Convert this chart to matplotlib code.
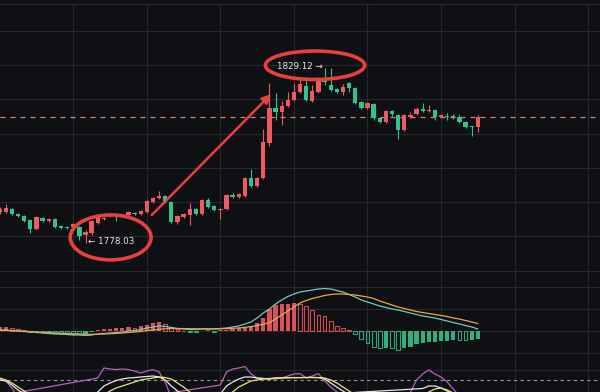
import matplotlib.pyplot as plt
from matplotlib.patches import Ellipse, FancyArrowPatch
import numpy as np

# ---- candle data, one entry per bar ----
opens = [1787.14, 1787.14, 1788.02, 1786.56, 1785.98, 1784.81, 1782.19, 1785.39, 1784.52, 1785.10,
         1783.06, 1782.77, 1782.77, 1782.77, 1780.44, 1781.02, 1783.94, 1785.10, 1786.27, 1786.56,
         1785.98, 1786.27, 1786.85, 1786.56, 1787.14, 1790.06, 1791.22, 1791.81, 1790.06, 1784.23,
         1785.68, 1786.27, 1788.02, 1786.56, 1790.64, 1788.89, 1787.73, 1788.02, 1792.10, 1791.52,
         1791.81, 1797.05, 1794.72, 1797.05, 1807.26, 1817.46, 1816.30, 1818.05, 1819.80, 1822.13,
         1823.88, 1819.50, 1822.13, 1825.63, 1824.17, 1823.00, 1822.13, 1824.75, 1823.29, 1819.21,
         1817.46, 1818.63, 1814.55, 1813.38, 1816.59, 1815.42, 1811.05, 1814.84, 1815.71, 1817.17,
         1816.59, 1816.88, 1814.84, 1815.13, 1815.13, 1814.84, 1813.38, 1812.22, 1811.92]
highs = [1788.60, 1789.48, 1788.31, 1786.85, 1786.27, 1785.10, 1785.98, 1785.68, 1785.39, 1785.39,
         1783.35, 1783.06, 1783.94, 1783.06, 1781.89, 1784.81, 1785.98, 1785.68, 1786.56, 1786.85,
         1786.56, 1787.43, 1787.14, 1787.73, 1790.64, 1791.52, 1793.26, 1792.10, 1790.35, 1786.27,
         1786.85, 1789.77, 1788.31, 1790.93, 1791.22, 1789.18, 1788.31, 1792.39, 1792.68, 1792.68,
         1797.35, 1799.68, 1797.35, 1811.34, 1824.75, 1821.84, 1819.50, 1822.13, 1824.75, 1826.50,
         1825.63, 1824.17, 1826.50, 1829.12, 1829.00, 1823.29, 1824.46, 1825.04, 1823.59, 1819.50,
         1819.21, 1818.92, 1814.84, 1816.88, 1816.88, 1815.71, 1815.71, 1816.30, 1817.75, 1818.92,
         1818.34, 1817.17, 1815.71, 1816.01, 1815.71, 1815.71, 1813.67, 1812.22, 1815.42]
lows = [1786.56, 1786.85, 1786.27, 1785.68, 1784.23, 1781.02, 1781.89, 1784.23, 1784.23, 1782.48,
        1782.19, 1782.19, 1782.48, 1778.98, 1778.03, 1780.44, 1783.64, 1784.81, 1785.68, 1784.52,
        1785.68, 1785.98, 1786.27, 1786.27, 1786.85, 1789.77, 1790.93, 1789.77, 1783.94, 1783.64,
        1785.39, 1783.35, 1786.27, 1786.27, 1788.31, 1787.43, 1785.10, 1787.73, 1791.22, 1791.22,
        1791.52, 1794.43, 1794.43, 1796.76, 1806.38, 1813.96, 1812.51, 1817.75, 1819.50, 1821.84,
        1819.50, 1819.21, 1821.84, 1824.17, 1822.42, 1821.84, 1821.25, 1822.13, 1818.63, 1817.17,
        1817.17, 1813.96, 1813.09, 1813.09, 1815.13, 1808.43, 1810.76, 1814.55, 1815.42, 1816.30,
        1816.30, 1813.96, 1814.55, 1813.96, 1814.26, 1813.09, 1811.63, 1809.30, 1810.47]
closes = [1788.02, 1788.31, 1786.56, 1785.98, 1784.52, 1782.19, 1785.68, 1784.52, 1785.10, 1782.77,
          1782.48, 1782.48, 1783.64, 1780.14, 1781.31, 1784.52, 1785.68, 1785.39, 1785.98, 1786.27,
          1786.27, 1787.14, 1786.56, 1787.43, 1790.35, 1791.22, 1791.81, 1790.06, 1784.23, 1785.98,
          1786.56, 1788.02, 1786.56, 1790.64, 1788.60, 1787.73, 1788.02, 1792.10, 1791.52, 1792.39,
          1797.05, 1794.72, 1797.05, 1807.55, 1817.46, 1816.30, 1818.05, 1819.80, 1822.13, 1824.46,
          1819.80, 1822.42, 1825.63, 1825.04, 1822.71, 1822.13, 1823.59, 1823.29, 1818.92, 1817.46,
          1818.92, 1814.55, 1813.38, 1816.59, 1815.71, 1811.05, 1815.42, 1815.42, 1817.17, 1816.59,
          1816.88, 1814.84, 1815.42, 1814.90, 1814.95, 1813.38, 1811.92, 1811.92, 1814.84]

# ---- MACD pane ----
macd_hist = [4, 4, 3, 2, 1, -0.5, -1, -1.2, -1.5, -2,
             -2.5, -2.7, -3, -3.2, -2.5, -1, 1.5, 2, 2.5, 3,
             3.2, 4, 3.5, 5, 6, 8, 9, 7, 4, 2,
             0.5, -1, -1.2, 0.5, 0.6, -0.5, 1, 1.5, 2, 3,
             4, 5.5, 8, 13, 22, 26, 27, 27.5, 28, 27,
             25, 21, 16, 15, 10, 5, 3, 0.8, -3, -8,
             -12, -16, -17, -16.8, -17, -19, -17, -16, -13, -12,
             -11, -10.5, -10, -9.8, -9, -9.2, -9.4, -9, -8]
macd_dif = [1, 1, 0.5, 0, -0.5, -1, -1.5, -2, -2.5, -3,
            -3, -3.5, -4, -4, -4.5, -4, -3, -2.5, -2, -1.5,
            -1, 0, 0.5, 1.5, 3, 4, 5, 4.5, 3.5, 2.5,
            2, 1.5, 1.5, 2, 2, 2, 2.5, 3, 4, 5,
            7, 9, 13, 18, 22, 27, 31, 34.5, 37, 39,
            40, 41, 42, 42.5, 42, 40.5, 39, 36.5, 34, 31,
            29, 27, 25, 23.5, 22, 21, 19.5, 18, 16.5, 15,
            14, 13, 11.5, 10, 8.5, 7, 5.5, 4, 2]
macd_dea = [0.5, 0.5, 0.3, 0, -0.3, -0.6, -1, -1.3, -1.6, -2,
            -2.2, -2.5, -2.8, -3, -3.2, -3.3, -3.2, -3, -2.7, -2.4,
            -2, -1.5, -1, -0.5, 0.3, 1, 1.7, 2.2, 2.5, 2.5,
            2.4, 2.3, 2.2, 2.2, 2.2, 2.2, 2.3, 2.4, 2.7, 3,
            3.6, 4.4, 5.5, 6.8, 8.5, 12, 16, 20, 24, 28,
            30.5, 32.5, 34, 35.5, 36.5, 37, 37, 36.5, 36, 35,
            34, 32.5, 30, 28, 26, 24, 22.5, 21, 19.5, 18.5,
            17.5, 16.5, 15.5, 14.5, 13, 12, 10.5, 9, 7.5]

# ---- KDJ pane ----
kdj_k = [50, 47.5, 37.5, 25, 15, 10, 8, 6, 5, 5,
         4, 4, 4, 5, 6, 7.5, 20, 35, 42.5, 48.75,
         52.5, 55, 56, 57.5, 58.75, 60, 57.5, 50, 35, 22.5,
         12.5, 8, 5, 5, 6, 5, 15, 35, 45, 52.5,
         57.5, 57.5, 55, 53.75, 52.5, 55, 55, 55.5, 56, 56,
         56, 56, 56, 52.5, 42.5, 32.5, 22.5, 12.5, 8, 5,
         3, 2, 2, 2, 3, 4, 5, 7.5, 17.5, 28.75,
         35, 35, 30, 22.5, 12.5, 8, 5, 3, 2]
kdj_d = [55, 50, 42.5, 32.5, 22.5, 12.5, 8, 6, 5, 4,
         4, 3, 3, 3, 4, 6, 9, 12.5, 22.5, 30,
         35, 40, 45, 50, 52.5, 55, 57.5, 56, 52.5, 42.5,
         32.5, 20, 12, 8, 6, 5, 6, 7.5, 20, 32.5,
         40, 47.5, 50, 52.5, 53.75, 55, 55.5, 56, 56, 56,
         56.5, 56.5, 56, 55, 50, 42.5, 32.5, 22.5, 12.5, 8,
         6, 5, 4, 4, 4, 4, 4, 5, 6, 9,
         20, 27.5, 30, 25, 17.5, 7.5, 5, 4, 4]
kdj_j = [52.5, 47.5, 30, 5, -10, -15, -12, -15, -10, -14,
         -16, -12, -8, -10, 0, 17.5, 55, 80, 77.5, 76,
         77.5, 76, 72.5, 67.5, 72.5, 76, 70, 45, 5, -5,
         -10, -8, -5, -6, 0, 17.5, 37.5, 70, 77.5, 80,
         83.75, 65, 55, 53.75, 52.5, 52.5, 55, 60, 65, 66,
         55, 60, 66, 47.5, 32.5, 20, 10, -2, -10, -12,
         -10, -12, -8, -10, -6, -4, 0, 20, 50, 65,
         75, 65, 57.5, 45, 27.5, 10, 0, -5, 0]

price_grid = [1770, 1780, 1790, 1800, 1810, 1820, 1830, 1840]
macd_grid = [-22, 0, 22, 44]
kdj_grid = [75]
bar_grid = [12, 24, 36, 48, 60, 72, 84, 96]

BG = "#0f1013"
GRID = "#25282c"
UP = "#ee5a62"
DOWN = "#34c28c"
MARK = "#e8403f"

n = len(closes)
x = np.arange(n)
xlim = (0.05, 97.93)

fig = plt.figure(figsize=(6, 3.92), dpi=100, facecolor=BG)
ax = fig.add_axes([0, 276 / 392 * 0 + 116 / 392, 1, 272 / 392])
ax_macd = fig.add_axes([0, 30 / 392, 1, 86 / 392])
ax_kdj = fig.add_axes([0, 0, 1, 30 / 392])

for a in (ax, ax_macd, ax_kdj):
    a.set_facecolor(BG)
    a.set_xlim(*xlim)
    a.set_xticks([])
    a.set_yticks([])
    for s in a.spines.values():
        s.set_visible(False)
    for g in bar_grid:
        a.axvline(g, color=GRID, lw=0.8, zorder=0)

# main price pane
ax.set_ylim(1768.48, 1847.78)
ax.spines["top"].set_visible(True)
ax.spines["top"].set_color(GRID)
ax.spines["bottom"].set_visible(True)
ax.spines["bottom"].set_color(GRID)
for p in price_grid:
    ax.axhline(p, color=GRID, lw=0.8, zorder=0)

o = np.array(opens)
c = np.array(closes)
up = c >= o
cols = np.where(up, UP, DOWN)
ax.vlines(x, lows, highs, colors=cols, lw=0.8, zorder=2)
body = np.maximum(np.abs(c - o), 0.3)
ax.bar(x, body, bottom=np.minimum(o, c), width=0.7, color=cols, zorder=3)

# last price line
ax.axhline(closes[-1], color="#e57a7a", lw=0.9, ls=(0, (4, 4)), zorder=1)

# high / low labels
lo_i = int(np.argmin(lows))
hi_i = int(np.argmax(highs))
ax.text(lo_i + 0.4, lows[lo_i] + 0.4, "\u2190 " + f"{lows[lo_i]:.2f}", color="#e6e6e6",
        fontsize=6.3, ha="left", va="center", zorder=5)
ax.text(hi_i - 0.3, highs[hi_i] + 0.4, f"{highs[hi_i]:.2f}" + " \u2192", color="#e6e6e6",
        fontsize=6.3, ha="right", va="center", zorder=5)

# red hand-drawn marks
ax.add_patch(Ellipse((lo_i + 4.1, lows[lo_i] + 1.7), 13.2, 13.1, fill=False,
                     ec=MARK, lw=2.6, zorder=6))
ax.add_patch(Ellipse((hi_i - 1.56, highs[hi_i] + 0.8), 16.2, 8.3, fill=False,
                     ec=MARK, lw=2.6, zorder=6))
ax.add_patch(FancyArrowPatch((24.5, 1785.7), (44.6, 1822.1), arrowstyle="-|>",
                             mutation_scale=13, color=MARK, lw=1.8, zorder=6))

# MACD pane
ax_macd.set_ylim(-31, 55)
for g in macd_grid:
    ax_macd.axhline(g, color=GRID, lw=0.8, zorder=0)
h = np.array(macd_hist)
prev = np.concatenate([[h[0]], h[:-1]])
for i in range(n):
    col = UP if h[i] >= 0 else DOWN
    hollow = h[i] < prev[i]
    if hollow:
        ax_macd.bar(i, h[i], width=0.62, facecolor="none", edgecolor=col,
                    lw=0.8, alpha=0.85, zorder=2)
    else:
        ax_macd.bar(i, h[i], width=0.7, color=col, alpha=0.9, zorder=2)
ax_macd.plot(x, macd_dif, color="#6fcac0", lw=0.9, zorder=3)
ax_macd.plot(x, macd_dea, color="#e9a64a", lw=0.9, zorder=3)

# KDJ pane
ax_kdj.set_ylim(20, 95)
for g in kdj_grid:
    ax_kdj.axhline(g, color=GRID, lw=0.8, zorder=0)
ax_kdj.axhline(50, color="#9a9a9a", lw=0.8, ls=(0, (3, 3)), zorder=1)
ax_kdj.plot(x, kdj_j, color="#b862b8", lw=0.9, zorder=2)
ax_kdj.plot(x, kdj_k, color="#e8e8e8", lw=0.9, zorder=3)
ax_kdj.plot(x, kdj_d, color="#efe27e", lw=0.9, zorder=3)

plt.savefig("out.png", dpi=100, facecolor=BG)
